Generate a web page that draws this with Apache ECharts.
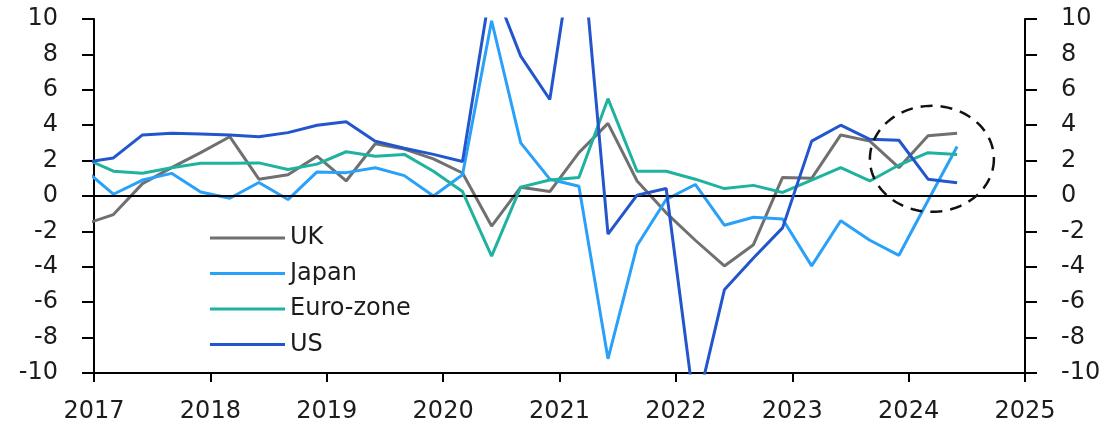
<!DOCTYPE html>
<html>
<head>
<meta charset="utf-8">
<script src="https://cdn.jsdelivr.net/npm/echarts@6/dist/echarts.min.js"></script>
<style>
  html, body { margin: 0; padding: 0; background: #fff; }
  #chart { width: 1115px; height: 424px; }
</style>
</head>
<body>
<div id="chart"></div>
<script>
// Quarterly readings, Q4 2016 to Q2 2024 (% q/q annualised)
const quarters = [
  '2016Q4',
  '2017Q1', '2017Q2', '2017Q3', '2017Q4',
  '2018Q1', '2018Q2', '2018Q3', '2018Q4',
  '2019Q1', '2019Q2', '2019Q3', '2019Q4',
  '2020Q1', '2020Q2', '2020Q3', '2020Q4',
  '2021Q1', '2021Q2', '2021Q3', '2021Q4',
  '2022Q1', '2022Q2', '2022Q3', '2022Q4',
  '2023Q1', '2023Q2', '2023Q3', '2023Q4',
  '2024Q1', '2024Q2'
];

const ukValues = [
  -1.6,
  -1.05, 0.7, 1.6, 2.45,
  3.35, 0.95, 1.2, 2.25,
  0.85, 2.95, 2.65, 2.1,
  1.3, -1.7, 0.5, 0.25,
  2.45, 4.1, 0.85, -0.95,
  -2.5, -3.95, -2.75, 1.05,
  1.0, 3.45, 3.1, 1.6,
  3.4, 3.55
];

const japanValues = [
  1.5,
  0.1, 0.9, 1.28, 0.23,
  -0.13, 0.76, -0.2, 1.36,
  1.32, 1.6, 1.15, 0.0,
  1.2, 9.9, 3.0, 0.95,
  0.55, -9.2, -2.8, -0.2,
  0.65, -1.65, -1.2, -1.3,
  -3.95, -1.4, -2.5, -3.35,
  -0.25, 2.8
];

const euroValues = [
  2.13,
  1.4, 1.28, 1.6, 1.85,
  1.85, 1.87, 1.5, 1.8,
  2.5, 2.25, 2.35, 1.4,
  0.25, -3.4, 0.5, 0.9,
  1.05, 5.5, 1.4, 1.4,
  0.95, 0.42, 0.6, 0.2,
  0.9, 1.6, 0.85, 1.75,
  2.45, 2.35
];

const usValues = [
  1.9,
  2.15, 3.45, 3.55, 3.5,
  3.45, 3.35, 3.58, 4.0,
  4.2, 3.1, 2.7, 2.35,
  1.95, 12.1, 7.9, 5.45,
  16.2, -2.15, 0.05, 0.42,
  -12.3, -5.3, -3.5, -1.8,
  3.1, 4.0, 3.2, 3.15,
  0.95, 0.75
];

const yearTicks = [2017, 2018, 2019, 2020, 2021, 2022, 2023, 2024, 2025];
const valueTicks = [-10, -8, -6, -4, -2, 0, 2, 4, 6, 8, 10];

// Highlighted recent period: centre of the dashed ring (year, value)
const ringCentre = [2024.2, 2.1];

// Each quarter is plotted at the start of its last month
function quarterToYear(q) {
  const year = parseInt(q.slice(0, 4), 10);
  const n = parseInt(q.slice(5), 10);
  return year + (3 * n - 1) / 12;
}

function pairs(values) {
  return quarters.map((q, i) => [quarterToYear(q), values[i]]);
}

const FONT = 'DejaVu Sans';
const TEXT = '#1c1c1c';

const seriesDefs = [
  { name: 'UK', values: ukValues, color: '#707070' },
  { name: 'Japan', values: japanValues, color: '#29a1fb' },
  { name: 'Euro-zone', values: euroValues, color: '#1fb39f' },
  { name: 'US', values: usValues, color: '#2356cc' }
];

const chart = echarts.init(document.getElementById('chart'), null, { renderer: 'canvas' });

const yAxisCommon = {
  type: 'value',
  min: valueTicks[0],
  max: valueTicks[valueTicks.length - 1],
  interval: 2,
  splitLine: { show: false },
  axisLine: { show: true, onZero: false, lineStyle: { color: '#000', width: 2 } },
  axisTick: { show: true, length: 12, lineStyle: { color: '#000', width: 2 } },
  axisLabel: { fontFamily: FONT, fontSize: 24, color: TEXT, margin: 36 }
};

const option = {
  animation: false,
  backgroundColor: '#fff',
  grid: { left: 94, right: 90, top: 19, bottom: 51, containLabel: false },
  xAxis: {
    type: 'value',
    min: yearTicks[0],
    max: yearTicks[yearTicks.length - 1],
    interval: 1,
    splitLine: { show: false },
    axisLine: { show: true, onZero: false, lineStyle: { color: '#000', width: 2 } },
    axisTick: { show: true, length: 9, lineStyle: { color: '#000', width: 2 } },
    axisLabel: {
      fontFamily: FONT, fontSize: 24, color: TEXT, margin: 27,
      formatter: v => String(v)
    }
  },
  yAxis: [
    Object.assign({ position: 'left' }, yAxisCommon),
    Object.assign({ position: 'right' }, yAxisCommon)
  ],
  legend: {
    orient: 'vertical',
    left: 205,
    top: 221,
    itemWidth: 75,
    itemHeight: 3,
    itemGap: 11.5,
    icon: 'rect',
    textStyle: { fontFamily: FONT, fontSize: 24, color: TEXT },
    data: seriesDefs.map(s => s.name)
  },
  series: seriesDefs.map((s, i) => {
    const ser = {
      name: s.name,
      type: 'line',
      data: pairs(s.values),
      showSymbol: false,
      symbol: 'none',
      clip: true,
      lineStyle: { color: s.color, width: 3 },
      itemStyle: { color: s.color },
      z: 3 + i
    };
    if (i === 0) {
      ser.markLine = {
        silent: true,
        symbol: ['none', 'none'],
        label: { show: false },
        lineStyle: { color: '#000', width: 2, type: 'solid' },
        data: [{ yAxis: 0 }]
      };
    }
    return ser;
  })
};

chart.setOption(option);

// Dashed ring around the latest readings
const c = chart.convertToPixel({ xAxisIndex: 0, yAxisIndex: 0 }, ringCentre);
const rx = 62, ry = 53;
const ringPts = [];
for (let k = 0; k <= 120; k++) {
  const a = (k / 120) * Math.PI * 2;
  ringPts.push([c[0] + rx * Math.cos(a), c[1] + ry * Math.sin(a)]);
}
chart.setOption({
  graphic: [{
    type: 'polyline',
    silent: true,
    z: 10,
    shape: { points: ringPts },
    style: { stroke: '#111', lineWidth: 2.5, fill: null, lineDash: [12, 8] }
  }]
});
</script>
</body>
</html>
